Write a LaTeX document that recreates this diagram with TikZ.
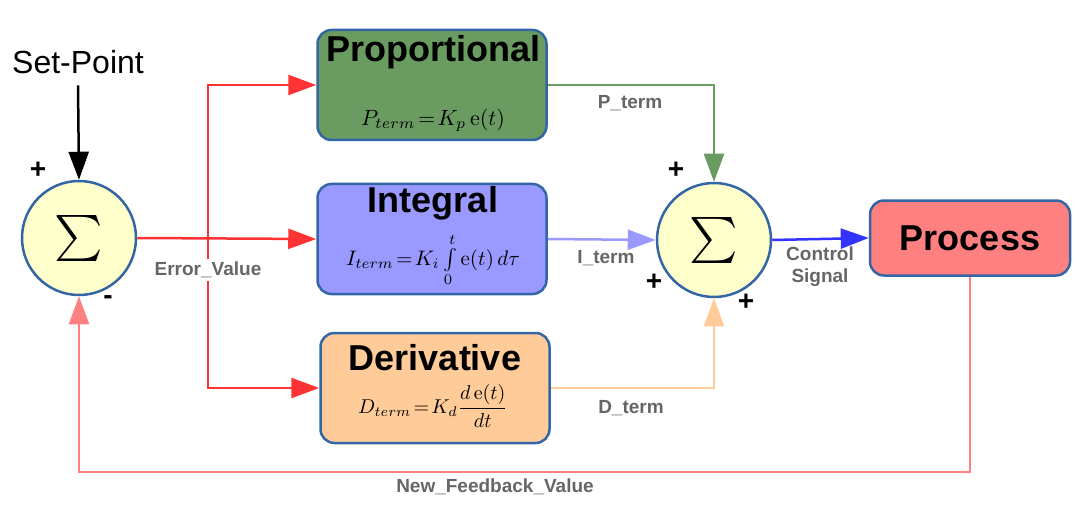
\documentclass[tikz,border=0pt]{standalone}
\usepackage{amsmath}
\usepackage[no-math]{fontspec}
\setmainfont{Liberation Sans}
\usetikzlibrary{arrows.meta}
\definecolor{edgeblue}{HTML}{3465A4}
\definecolor{sumfill}{HTML}{FFFFCC}
\definecolor{propgreen}{HTML}{6A9B61}
\definecolor{integblue}{HTML}{9999FF}
\definecolor{derivpeach}{HTML}{FFCC99}
\definecolor{procred}{HTML}{FF8080}
\definecolor{errred}{HTML}{FF3333}
\definecolor{ctrlblue}{HTML}{3333FF}
\definecolor{labelgray}{HTML}{666666}
\newcommand{\sumsign}{\scalebox{4.6}{$\sum$}}
\newcommand{\bigmath}[2][2.2]{\scalebox{#1}{$#2$}}

\begin{document}
\begin{tikzpicture}[x=1pt,y=-1pt,
	block/.style={draw=edgeblue,line width=2.5pt,rounded corners=14pt,minimum width=229pt,minimum height=110pt},
	summer/.style={circle,draw=edgeblue,line width=2.5pt,fill=sumfill,minimum size=114pt,inner sep=0pt},
	title/.style={font=\fontsize{36}{36}\selectfont\bfseries,inner sep=0pt},
	formula/.style={inner sep=0pt},
	siglabel/.style={font=\fontsize{19}{22}\selectfont\bfseries,text=labelgray,align=center},
	sign/.style={font=\fontsize{28}{28}\selectfont\bfseries},
	wire/.style={line width=2.5pt,-{Triangle[length=28pt,width=20pt]}}]
	\useasboundingbox (0,0) rectangle (1090,508);
	% summing junctions and blocks
	\node[summer] (sumL) at (79,238) {\sumsign};
	\node[summer] (sumR) at (714,240) {\sumsign};
	\node[block,fill=propgreen] (prop) at (432,85) {};
	\node[block,fill=integblue] (integ) at (432,239) {};
	\node[block,fill=derivpeach] (deriv) at (435,388) {};
	\node[draw=edgeblue,line width=2.5pt,rounded corners=14pt,fill=procred,minimum width=200pt,minimum height=75pt,
		font=\fontsize{36}{36}\selectfont\bfseries] (proc) at (970,238) {Process};
	% block texts
	\node[title] (propT) at (433,52) {Proportional};
	\node[formula] (propF) at (433,120) {\bigmath{P_{term}\!=\!K_p\,\mathrm{e}(t)}};
	\node[title] (integT) at (433,203) {Integral};
	\node[formula] (integF) at (433,260) {\bigmath[2.1]{I_{term}\!=\!K_i\int\limits_0^t \mathrm{e}(t)\,d\tau}};
	\node[title] (derivT) at (435,358) {Derivative};
	\node[formula] (derivF) at (433,406) {\bigmath[2]{D_{term}\!=\!K_d\dfrac{d\,\mathrm{e}(t)}{dt}}};
	% input
	\node[font=\fontsize{32}{32}\selectfont] (setp) at (78,62) {Set-Point};
	\draw[wire,black] (setp.south) ++(0,8) -- (sumL.north);
	% error branches
	\coordinate (fork) at (208,238);
	\draw[wire,errred] (sumL.east) -- (integ.west);
	\draw[wire,errred] (fork) |- (prop.west);
	\draw[wire,errred] (fork) |- (deriv.west);
	% terms into right junction
	\draw[wire,propgreen] (prop.east) -| (sumR.north);
	\draw[wire,integblue] (integ.east) -- (sumR.west);
	\draw[wire,derivpeach] (deriv.east) -| (sumR.south);
	\draw[wire,ctrlblue] (sumR.east) -- (proc.west);
	% feedback
	\draw[wire,procred] (proc.south) -- ++(0,195) -| (sumL.south);
	% labels
	\node[siglabel,fill=white,inner sep=3pt] (errL) at (208,270) {Error\_Value};
	\node[siglabel] (pL) at (630,103) {P\_term};
	\node[siglabel] (iL) at (606,258) {I\_term};
	\node[siglabel] (dL) at (631,408) {D\_term};
	\node[siglabel,font=\fontsize{19}{22}\selectfont\bfseries] (ctrlL) at (820,267) {Control\\Signal};
	\node[siglabel] (fbL) at (495,487) {New\_Feedback\_Value};
	% signs
	\node[sign] (pl1) at (38,170) {+};
	\node[sign] (mi1) at (108,300) {-};
	\node[sign] (pl2) at (676,170) {+};
	\node[sign] (pl3) at (654,282) {+};
	\node[sign] (pl4) at (746,302) {+};
\end{tikzpicture}
\end{document}
